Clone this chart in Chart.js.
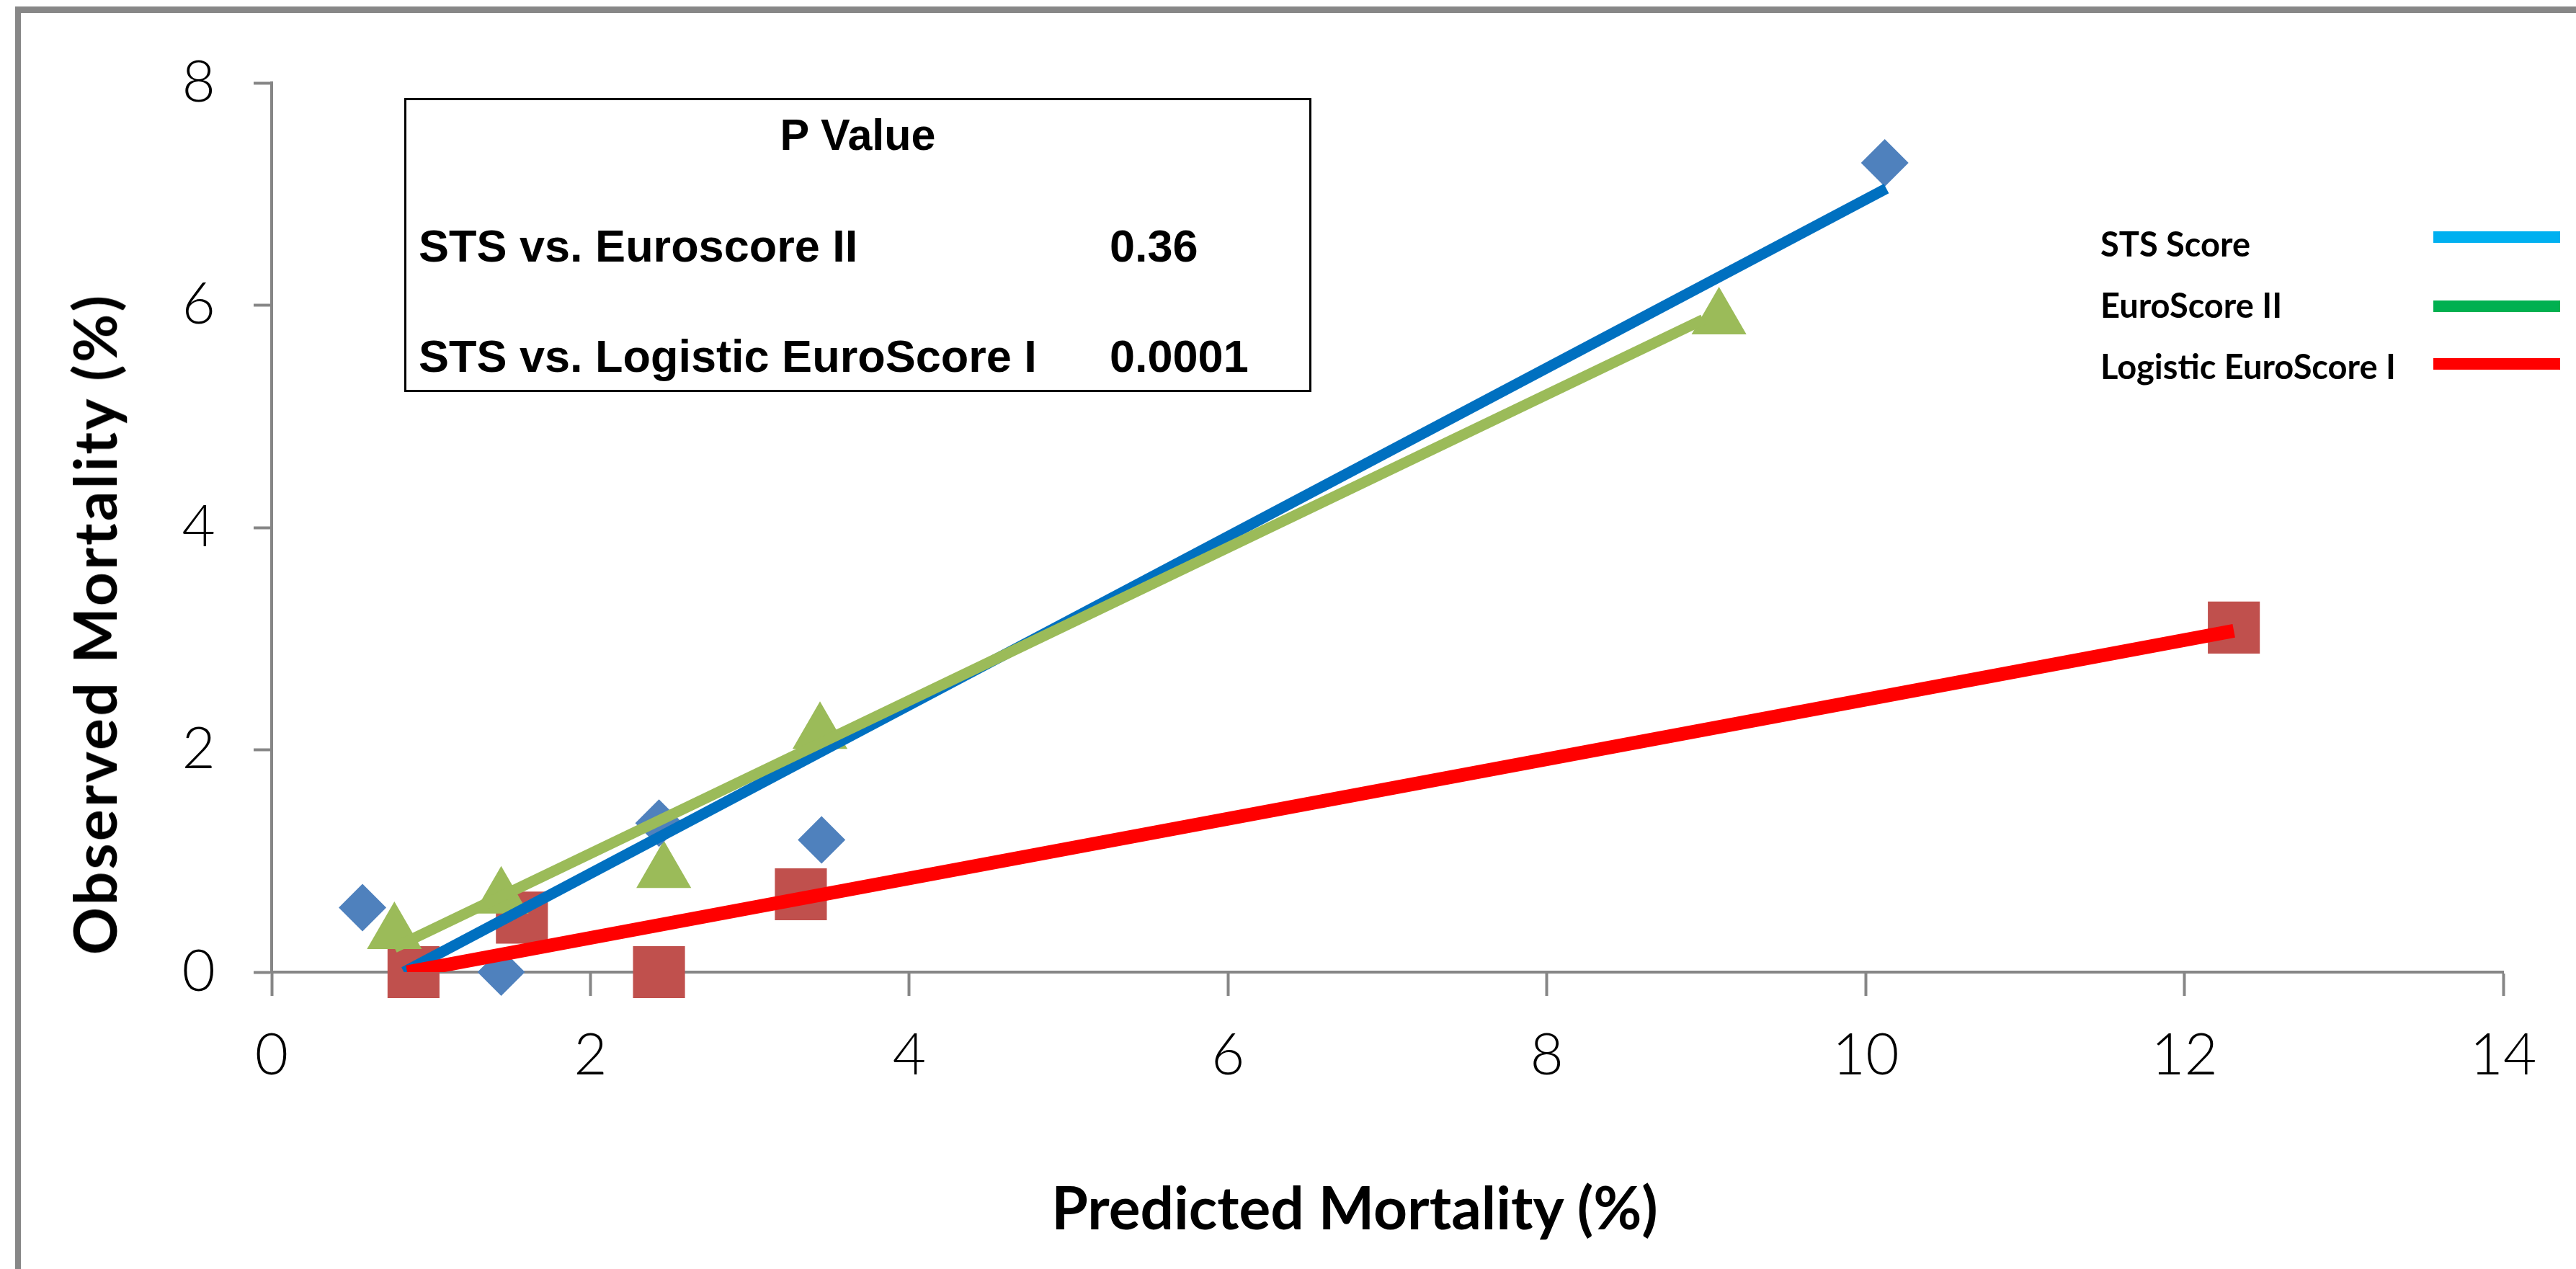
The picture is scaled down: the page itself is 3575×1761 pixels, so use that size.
<!DOCTYPE html>
<html>
<head>
<meta charset="utf-8">
<script src="https://cdn.jsdelivr.net/npm/chart.js@4.4.1/dist/chart.umd.min.js"></script>
<style>
  html, body { margin: 0; padding: 0; background: #ffffff; }
  #wrap { position: relative; width: 3575px; height: 1761px; overflow: hidden; background: #ffffff; }
  #frame { position: absolute; left: 21px; top: 9px; width: 4000px; height: 2000px; box-sizing: border-box;
           border-top: 9px solid #878787; border-left: 8px solid #878787; }
  #chart { position: absolute; left: 0; top: 0; }
  .t { position: absolute; white-space: nowrap; line-height: 1; color: #000; }
  #pbox { position: absolute; left: 561px; top: 136px; width: 1259px; height: 408px; box-sizing: border-box;
          border: 3px solid #000; background: #fff; }
  .box { font-family: "Liberation Sans", Arial, sans-serif; font-weight: bold; }
  .cal { font-family: Lato, "Open Sans", sans-serif; font-weight: bold; }
  .legline { position: absolute; height: 16px; }
</style>
</head>
<body>
<div id="wrap">
  <div id="frame"></div>
  <canvas id="chart" width="3575" height="1761"></canvas>
  <div id="pbox"></div>
  <div id="overlay"></div>
</div>
<script>
// ---------------- data ----------------
const xTickValues = [0, 2, 4, 6, 8, 10, 12, 14];
const yTickValues = [0, 2, 4, 6, 8];
const seriesNames = ['STS Score', 'EuroScore II', 'Logistic EuroScore I'];

const stsPredicted = [0.57, 1.44, 2.43, 3.45, 10.12];
const stsObserved  = [0.58, 0.00, 1.34, 1.19, 7.28];

const euro2Predicted = [0.77, 1.44, 2.46, 3.44, 9.08];
const euro2Observed  = [0.35, 0.67, 0.90, 2.15, 5.88];

const logEuro1Predicted = [0.89, 1.57, 2.43, 3.32, 12.31];
const logEuro1Observed  = [0.00, 0.49, 0.00, 0.70, 3.10];

// trend line end points (as drawn in the figure)
const stsTrendX = [0.83, 10.13];
const stsTrendY = [0.00, 7.05];
const euro2TrendX = [0.77, 8.98];
const euro2TrendY = [0.22, 5.87];
const logEuro1TrendX = [0.85, 12.31];
const logEuro1TrendY = [0.00, 3.07];

const pValueTitle = 'P Value';
const pValueRows = ['STS vs. Euroscore II', 'STS vs. Logistic EuroScore I'];
const pValues = ['0.36', '0.0001'];

const xAxisTitle = 'Predicted  Mortality (%)';
const yAxisTitle = 'Observed Mortality (%)';

// ---------------- helpers ----------------
const pts = (xs, ys) => xs.map((x, i) => ({ x: x, y: ys[i] }));
const AXIS = '#868686';

const legendColors = ['#00B0F0', '#00B050', '#FF0000'];

const tickFont = { family: 'Lato, "Open Sans", sans-serif', size: 80, weight: '300' };

const chart = new Chart(document.getElementById('chart'), {
  type: 'scatter',
  data: {
    datasets: [
      { label: seriesNames[2] + ' trend', data: pts(logEuro1TrendX, logEuro1TrendY), showLine: true,
        borderColor: '#FF0000', borderWidth: 19, pointRadius: 0, order: 0, borderCapStyle: 'butt' },
      { label: seriesNames[1] + ' trend', data: pts(euro2TrendX, euro2TrendY), showLine: true,
        borderColor: '#9BBB59', borderWidth: 15, pointRadius: 0, order: 1, borderCapStyle: 'butt' },
      { label: seriesNames[0] + ' trend', data: pts(stsTrendX, stsTrendY), showLine: true,
        borderColor: '#0070C0', borderWidth: 15, pointRadius: 0, order: 2, borderCapStyle: 'butt' },
      { label: seriesNames[0], data: pts(stsPredicted, stsObserved), pointStyle: 'rectRot',
        pointRadius: 33, backgroundColor: '#4F81BD', borderWidth: 0, order: 3, clip: false },
      { label: seriesNames[1], data: pts(euro2Predicted, euro2Observed), pointStyle: 'triangle',
        pointRadius: 44, backgroundColor: '#9BBB59', borderWidth: 0, order: 4, clip: false },
      { label: seriesNames[2], data: pts(logEuro1Predicted, logEuro1Observed), pointStyle: 'rect',
        pointRadius: 51, backgroundColor: '#C0504D', borderWidth: 0, order: 5, clip: false }
    ]
  },
  options: {
    responsive: false,
    animation: false,
    devicePixelRatio: 1,
    events: [],
    layout: { padding: { left: 0, top: 115, right: 101, bottom: 0 } },
    plugins: { legend: { display: false }, tooltip: { enabled: false }, title: { display: false } },
    scales: {
      x: {
        type: 'linear', min: xTickValues[0], max: xTickValues[xTickValues.length - 1],
        afterBuildTicks: s => { s.ticks = xTickValues.map(v => ({ value: v })); },
        afterFit: s => { s.height = 412; },
        grid: { drawOnChartArea: false, drawTicks: true, tickLength: 33, tickWidth: 4, tickColor: AXIS },
        border: { display: true, color: AXIS, width: 4 },
        ticks: { font: tickFont, color: '#000', padding: 35, maxRotation: 0, autoSkip: false }
      },
      y: {
        type: 'linear', min: yTickValues[0], max: yTickValues[yTickValues.length - 1],
        afterBuildTicks: s => { s.ticks = yTickValues.map(v => ({ value: v })); },
        afterFit: s => { s.width = 377; },
        grid: { drawOnChartArea: false, drawTicks: true, tickLength: 25, tickWidth: 4, tickColor: AXIS },
        border: { display: true, color: AXIS, width: 4 },
        ticks: { font: tickFont, color: '#000', padding: 53, autoSkip: false }
      }
    }
  }
});

// ---------------- text overlays ----------------
const ov = document.getElementById('overlay');
function addText(txt, cls, css) {
  const d = document.createElement('div');
  d.className = 't ' + cls;
  d.textContent = txt;
  Object.assign(d.style, css);
  ov.appendChild(d);
  return d;
}

// axis titles
addText(yAxisTitle, 'cal', { fontSize: '82px', letterSpacing: '3.3px', left: '130px', top: '866px',
  transform: 'translate(-50%, -50%) rotate(-90deg)' });
addText(xAxisTitle, 'cal', { fontSize: '82px', left: '1880px', top: '1674px',
  transform: 'translate(-50%, -50%)' });

// P value box
addText(pValueTitle, 'box', { fontSize: '61px', left: '561px', width: '1259px', textAlign: 'center', top: '157px' });
const rowTops = [310, 463];
pValueRows.forEach((r, i) => {
  addText(r, 'box', { fontSize: '63px', left: '581px', top: rowTops[i] + 'px' });
  addText(pValues[i], 'box', { fontSize: '63px', left: '1540px', top: rowTops[i] + 'px' });
});

// legend
const legTextTops = [315, 400, 485];
const legLineCenters = [329, 425, 505];
seriesNames.forEach((n, i) => {
  addText(n, 'cal', { fontSize: '47px', left: '2915px', top: legTextTops[i] + 'px' });
  const l = document.createElement('div');
  l.className = 'legline';
  Object.assign(l.style, { left: '3377px', width: '176px', top: (legLineCenters[i] - 8) + 'px', background: legendColors[i] });
  ov.appendChild(l);
});
</script>
</body>
</html>
